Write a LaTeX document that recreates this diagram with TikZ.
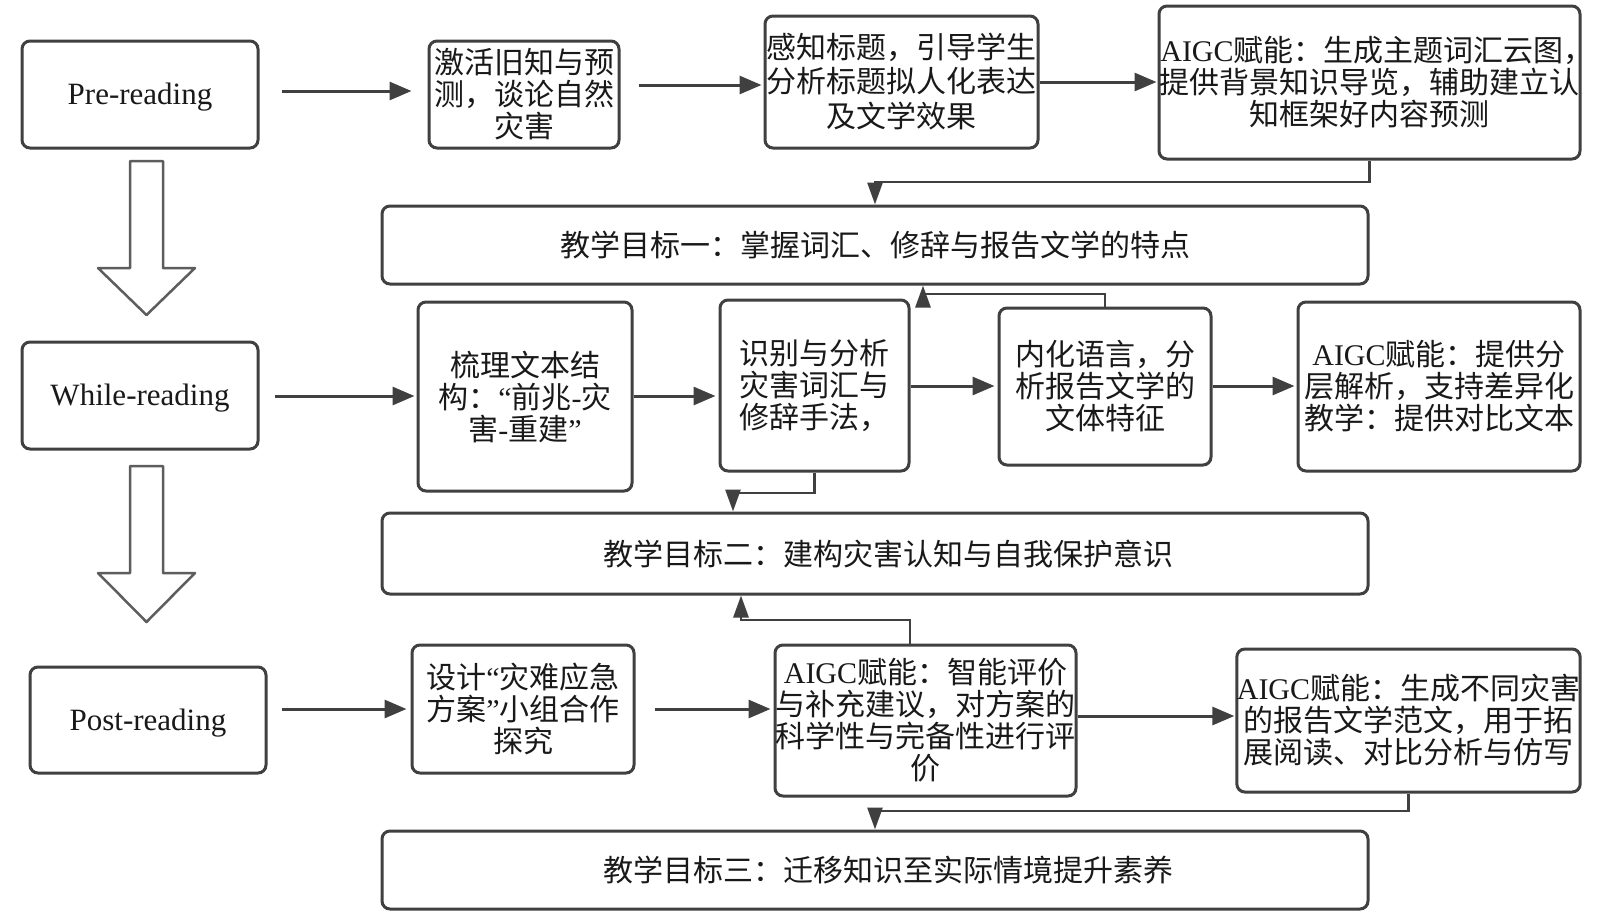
\documentclass[tikz,border=0pt]{standalone}
\usepackage{fontspec}
\setmainfont{Noto Sans CJK SC}
\newfontfamily\lat{Liberation Serif}
\usetikzlibrary{arrows.meta}
\definecolor{lc}{RGB}{64,64,64}
\definecolor{tc}{RGB}{25,25,25}
\newcommand{\Lq}{{\lat “}}
\newcommand{\Rq}{{\lat ”}}
\newcommand{\Hy}{{\lat -}}
\newcommand{\AIGC}{{\lat AIGC}}
\newcommand{\sinktext}[1]{\raisebox{-3pt}[\height][\depth]{#1}}
\newcommand{\stage}[1]{\sinktext{\lat\fontsize{31}{32}\selectfont #1}}
\begin{document}
\begin{tikzpicture}[x=1pt,y=-1pt,
  box/.style={draw=lc, line width=3pt, rounded corners=8pt, inner sep=0pt, align=center, text=tc, font=\fontsize{30}{32}\selectfont},
  arr/.style={draw=lc, line width=3pt, -{Triangle[length=22pt,width=18pt]}},
  elb/.style={draw=lc, line width=2.8pt, -{Triangle[length=22pt,width=15pt]}},
  hollow/.style={draw=lc!85, line width=2.5pt, fill=white, line join=round}]
\fill[white] (0,0) rectangle (1599,922);
\useasboundingbox (0,0) rectangle (1599,922);

% row 1
\node[box, minimum width=236pt, minimum height=107pt] (pre) at (140,94.5) {\stage{Pre-reading}};
\node[box, minimum width=190pt, minimum height=107pt] (act) at (524,94.5) {激活旧知与预\\测，谈论自然\\灾害};
\node[box, minimum width=273pt, minimum height=132pt] (per) at (901.5,82) {\sinktext{\begin{tabular}{@{}c@{}}感知标题，引导学生\\分析标题拟人化表达\\及文学效果\end{tabular}}};
\node[box, minimum width=421pt, minimum height=153pt] (ai1) at (1369.5,82.5) {\AIGC 赋能：生成主题词汇云图\makebox[15pt][l]{，}\\提供背景知识导览，辅助建立认\\知框架好内容预测};
\node[box, minimum width=986pt, minimum height=78pt] (g1) at (875,245) {教学目标一：掌握词汇、修辞与报告文学的特点};

% row 2
\node[box, minimum width=236pt, minimum height=107pt] (while) at (140,395.5) {\stage{While-reading}};
\node[box, minimum width=214pt, minimum height=189pt] (sort) at (525,396.5) {梳理文本结\\构：\Lq 前兆\Hy 灾\\害\Hy 重建\Rq};
\node[box, minimum width=189pt, minimum height=171pt] (rec) at (814.5,385.5) {识别与分析\\灾害词汇与\\修辞手法，};
\node[box, minimum width=212pt, minimum height=157pt] (int) at (1105,386.5) {内化语言，分\\析报告文学的\\文体特征};
\node[box, minimum width=282pt, minimum height=169pt] (ai2) at (1439,386.5) {\AIGC 赋能：提供分\\层解析，支持差异化\\教学：提供对比文本};
\node[box, minimum width=986pt, minimum height=81pt] (g2) at (875,553.5) {\hspace*{26pt}教学目标二：建构灾害认知与自我保护意识};

% row 3
\node[box, minimum width=236pt, minimum height=106pt] (post) at (148,720) {\stage{Post-reading}};
\node[box, minimum width=222pt, minimum height=128pt] (des) at (523,709) {设计\Lq 灾难应急\\方案\Rq 小组合作\\探究};
\node[box, minimum width=301pt, minimum height=151pt] (ai3) at (925.5,720.5) {\AIGC 赋能：智能评价\\与补充建议，对方案的\\科学性与完备性进行评\\价};
\node[box, minimum width=343pt, minimum height=143pt] (ai4) at (1408.5,720.5) {\AIGC 赋能：生成不同灾害\\的报告文学范文，用于拓\\展阅读、对比分析与仿写};
\node[box, minimum width=986pt, minimum height=78pt] (g3) at (875,870) {\hspace*{26pt}教学目标三：迁移知识至实际情境提升素养};

% hollow block arrows
\draw[hollow] (130,161) -- (163,161) -- (163,268) -- (195,268) -- (146.5,315) -- (98,268) -- (130,268) -- cycle;
\draw[hollow] (130,466) -- (163,466) -- (163,573) -- (195,573) -- (146.5,622) -- (98,573) -- (130,573) -- cycle;

% horizontal arrows
\draw[arr, shorten <=22pt, shorten >=16pt] (pre.east |- 0,91) -- (act.west |- 0,91);
\draw[arr, shorten <=18pt, shorten >=2pt] (act.east |- 0,85) -- (per.west |- 0,85);
\draw[arr, shorten >=1pt] (per.east |- 0,82) -- (ai1.west |- 0,82);
\draw[arr, shorten <=15pt, shorten >=2pt] (while.east |- 0,396) -- (sort.west |- 0,396);
\draw[arr, shorten >=3pt] (sort.east |- 0,396) -- (rec.west |- 0,396);
\draw[arr, shorten >=3pt] (rec.east |- 0,386) -- (int.west |- 0,386);
\draw[arr, shorten >=2pt] (int.east |- 0,386) -- (ai2.west |- 0,386);
\draw[arr, shorten <=14pt, shorten >=4pt] (post.east |- 0,709) -- (des.west |- 0,709);
\draw[arr, shorten <=19pt, shorten >=3pt] (des.east |- 0,709) -- (ai3.west |- 0,709);
\draw[arr, shorten >=1pt] (ai3.east |- 0,716) -- (ai4.west |- 0,716);

% elbow connectors to goals
\draw[elb] (ai1.south) |- (875,182) -- (g1.north);
\draw[elb] (int.north) |- (923,294) -- (g1.south -| 923,0);
\draw[elb] (rec.south) |- (733,493) -- (g2.north -| 733,0);
\draw[elb] (ai3.north -| 910,0) |- (741,620) -- (g2.south -| 741,0);
\draw[elb] (ai4.south) |- (875,811) -- (g3.north);
\end{tikzpicture}
\end{document}
